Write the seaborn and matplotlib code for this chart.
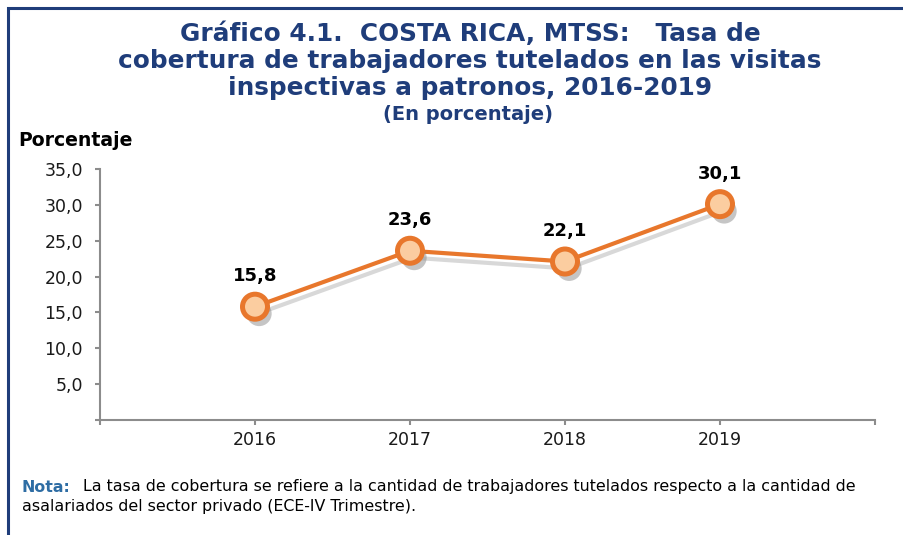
# Costa Rica MTSS: tasa de cobertura de trabajadores tutelados, 2016-2019

import pandas as pd
import matplotlib
matplotlib.use("Agg")
import matplotlib.pyplot as plt
import matplotlib.patheffects as pe
from matplotlib.patches import Rectangle
import seaborn as sns

# -------------------------
# Data
# -------------------------
years = ["2016", "2017", "2018", "2019"]
rates = [15.8, 23.6, 22.1, 30.1]
y_ticks = [5, 10, 15, 20, 25, 30, 35]

df = pd.DataFrame({"pos": range(len(years)), "year": years, "rate": rates})

# -------------------------
# Style
# -------------------------
sns.set_style("white")
plt.rcParams["font.family"] = ["DejaVu Sans"]

navy = "#1F3D7A"
orange = "#E8772C"
peach = "#FBCDA0"
axis_gray = "#8C8C8C"

fig = plt.figure(figsize=(9.04, 5.35), dpi=100)
ax = fig.add_axes([100 / 904, 1 - 420 / 535, 775 / 904, 251 / 535])

# line with a soft shadow
sns.lineplot(data=df, x="pos", y="rate", ax=ax, color=orange, linewidth=3,
             path_effects=[pe.SimpleLineShadow(offset=(2, -5), shadow_color="#808080", alpha=0.3),
                           pe.Normal()])
# markers with a filled shadow
sns.lineplot(data=df, x="pos", y="rate", ax=ax, color=orange, linestyle="",
             marker="o", markersize=18, markerfacecolor=peach,
             markeredgecolor=orange, markeredgewidth=3.6,
             path_effects=[pe.SimplePatchShadow(offset=(3, -5), shadow_rgbFace="#808080", alpha=0.45),
                           pe.Normal()])

# data labels
for x, v in zip(df["pos"], rates):
    ax.annotate(f"{v:.1f}".replace(".", ","), (x, v), xytext=(0, 22),
                textcoords="offset points", ha="center", va="center",
                fontsize=13, fontweight="bold", color="black")

# -------------------------
# Axes
# -------------------------
ax.set_xlim(-1, 4)
ax.set_ylim(0, 35)
ax.set_xticks(range(-1, 5))
ax.set_xticklabels([""] + years + [""])
ax.set_yticks([0] + y_ticks)
ax.set_yticklabels([""] + [f"{t:.1f}".replace(".", ",") for t in y_ticks])
ax.set_xlabel("")
ax.set_ylabel("")

for side in ["top", "right"]:
    ax.spines[side].set_visible(False)
for side in ["left", "bottom"]:
    ax.spines[side].set_color(axis_gray)
    ax.spines[side].set_linewidth(1.5)

ax.tick_params(axis="both", which="major", bottom=True, left=True, length=3.6,
               width=1.5, color=axis_gray, labelsize=12.5, labelcolor="#1A1A1A",
               direction="out")
ax.tick_params(axis="y", pad=8.6)
ax.tick_params(axis="x", pad=4)

# -------------------------
# Titles and notes
# -------------------------
title_lines = ["Gráfico 4.1.  COSTA RICA, MTSS:   Tasa de",
               "cobertura de trabajadores tutelados en las visitas",
               "inspectivas a patronos, 2016-2019"]
for i, line in enumerate(title_lines):
    fig.text(470 / 904, 1 - (34 + 27 * i) / 535, line, ha="center", va="center",
             fontsize=17.8, fontweight="bold", color=navy)
fig.text(468 / 904, 1 - 115 / 535, "(En porcentaje)", ha="center", va="center",
         fontsize=14, fontweight="bold", color=navy)

fig.text(18 / 904, 1 - 140 / 535, "Porcentaje", ha="left", va="center",
         fontsize=13.6, fontweight="bold", color="black")

fig.text(22 / 904, 1 - 487 / 535, "Nota:", ha="left", va="center",
         fontsize=11.45, fontweight="bold", color="#2E6DA4")
fig.text(83 / 904, 1 - 487 / 535,
         "La tasa de cobertura se refiere a la cantidad de trabajadores tutelados respecto a la cantidad de",
         ha="left", va="center", fontsize=11.45, color="black")
fig.text(22 / 904, 1 - 506 / 535,
         "asalariados del sector privado (ECE-IV Trimestre).",
         ha="left", va="center", fontsize=11.45, color="black")

# frame round the chart
fig.patches.append(Rectangle((8 / 904, -0.05), 1.0, 1 - 8 / 535 + 0.05,
                             transform=fig.transFigure, fill=False,
                             edgecolor=navy, linewidth=2.2))

fig.savefig("out.png", dpi=100)
